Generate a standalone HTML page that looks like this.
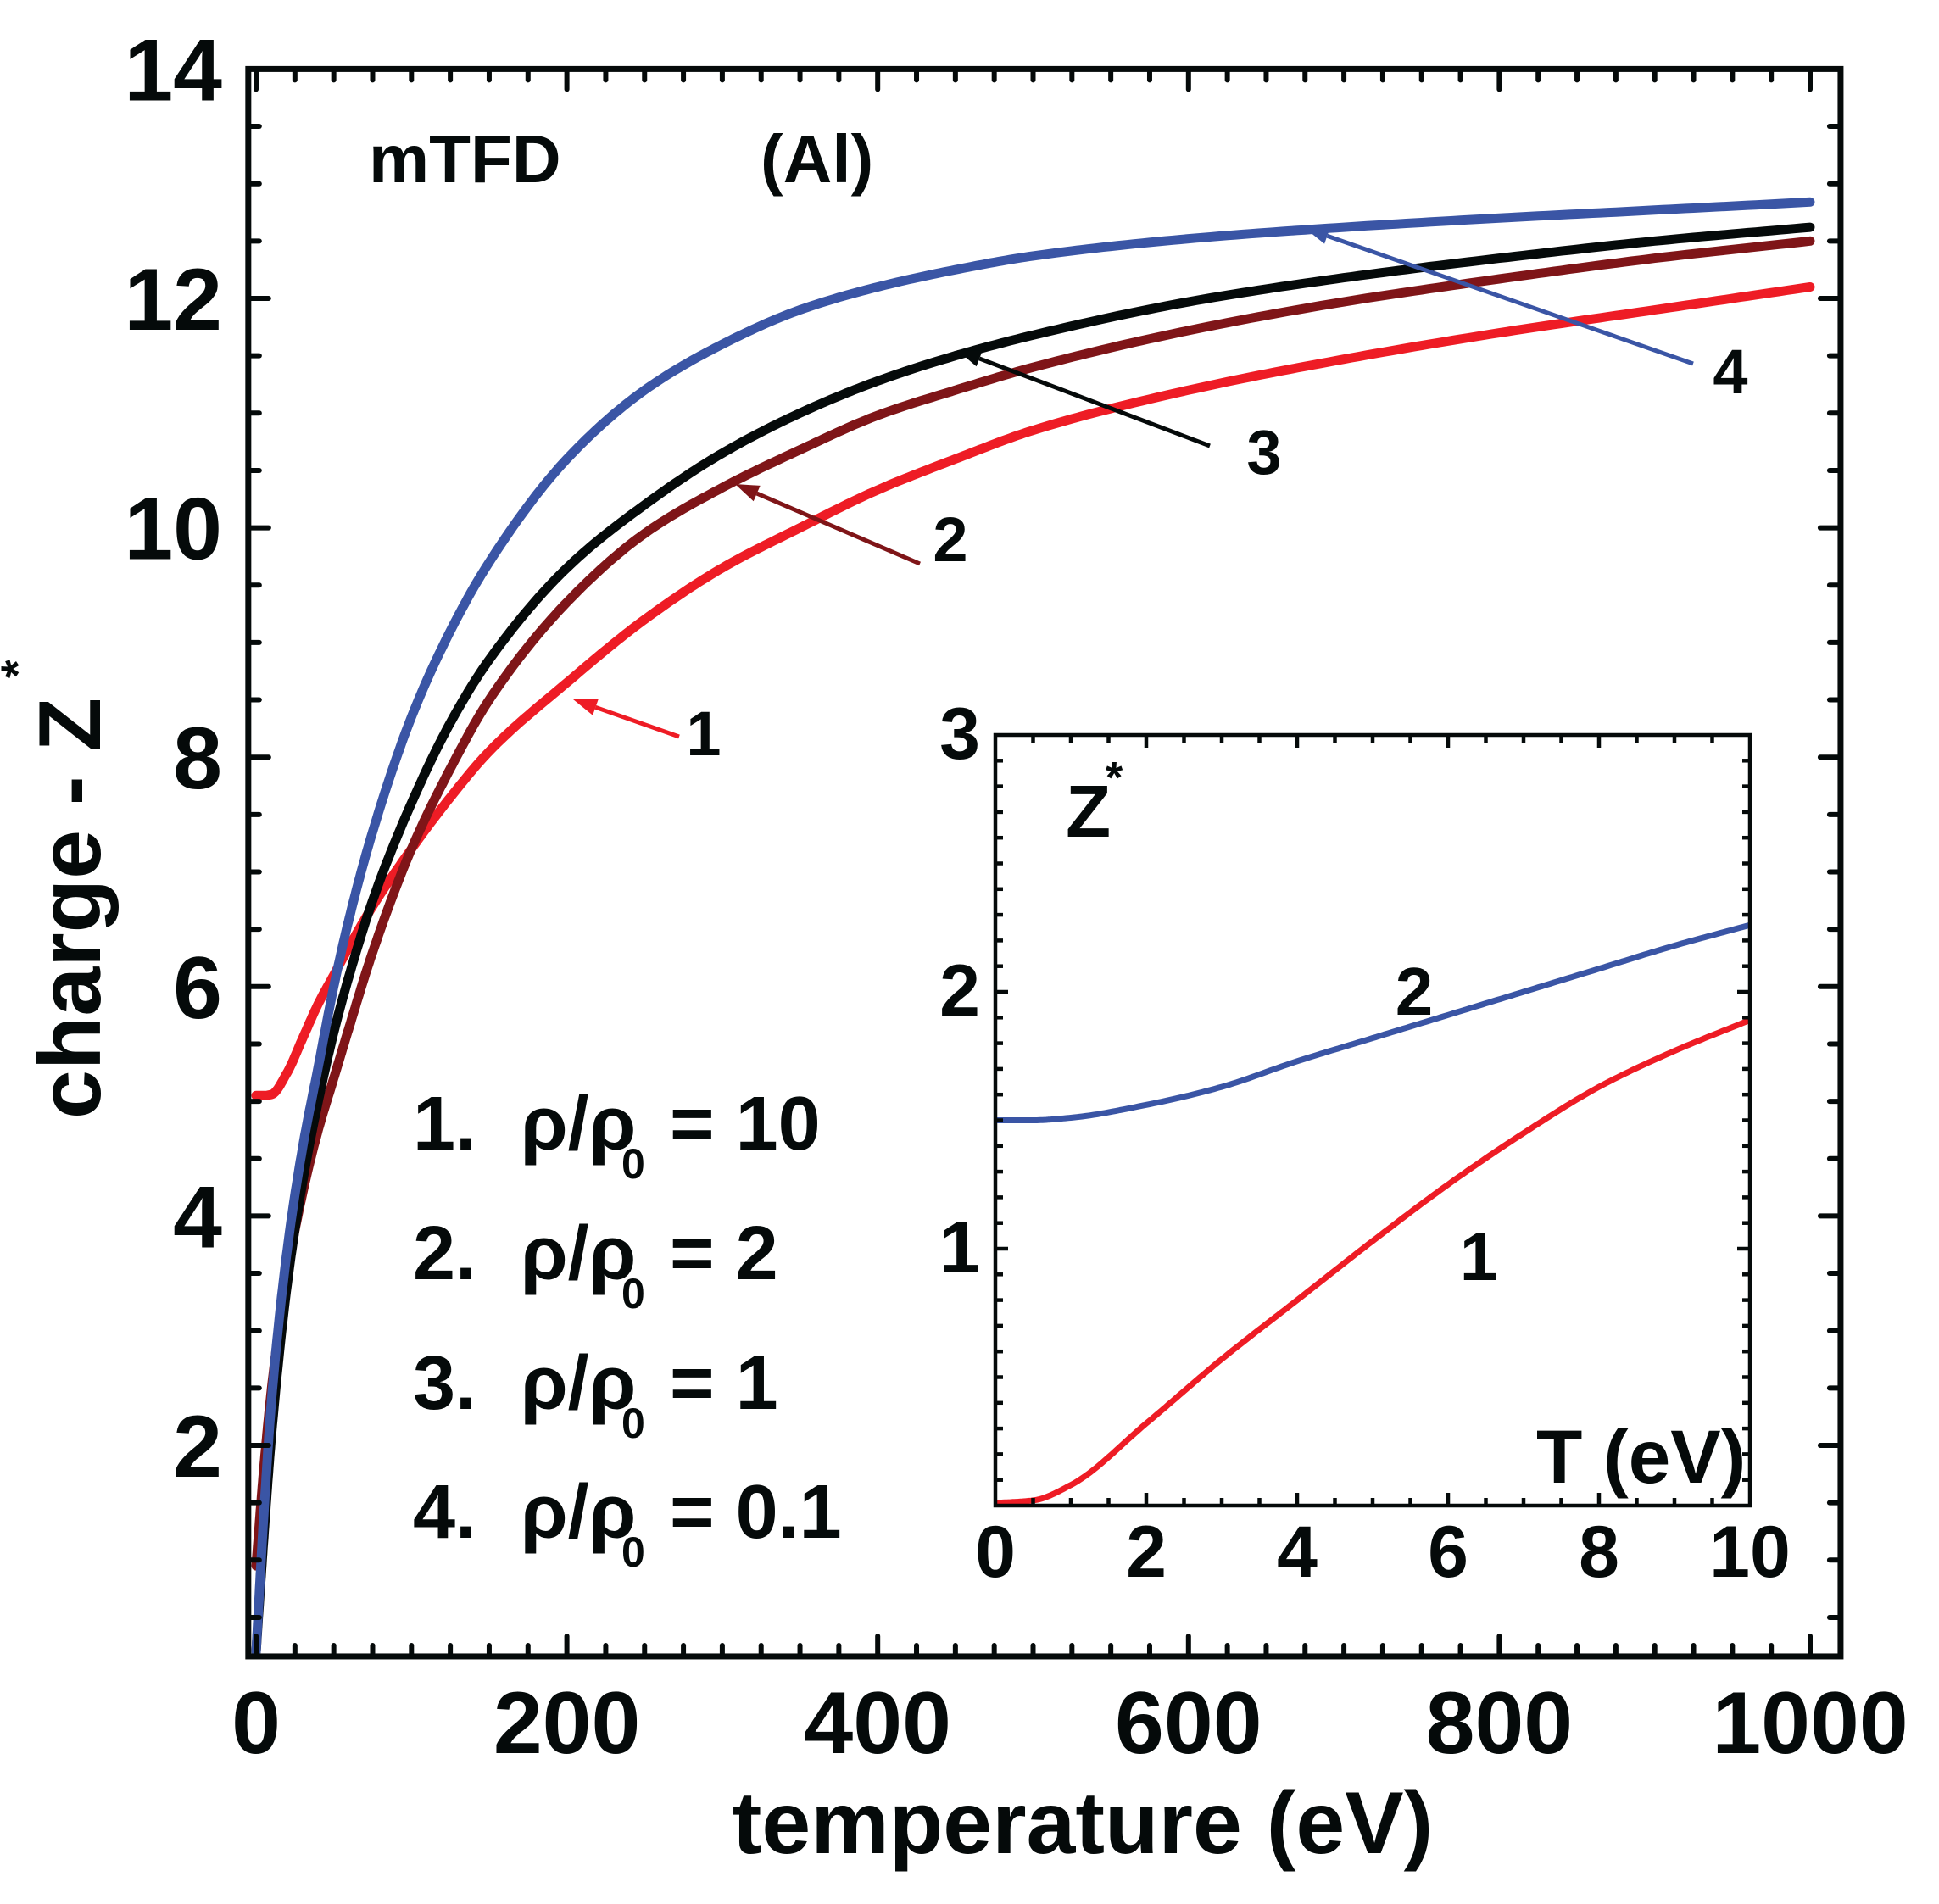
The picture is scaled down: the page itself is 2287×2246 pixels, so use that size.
<!DOCTYPE html>
<html><head><meta charset="utf-8"><style>
html,body{margin:0;padding:0;background:#fff;}
svg{display:block;}
text{font-family:"Liberation Sans",Arial,sans-serif;font-weight:bold;fill:#050a0a;}
</style></head><body>
<svg id="chart" width="2287" height="2246" viewBox="0 0 2287 2246" xmlns="http://www.w3.org/2000/svg">
<g id="main-plot"></g>
<g id="inset-plot"></g>
<g id="annotations">
<text x="435" y="215" font-size="80">mTFD</text>
<text x="897" y="215" font-size="80">(Al)</text>
<g font-size="90">
 <g><text x="487" y="1356">1.</text><text x="614" y="1356">ρ/ρ</text><text x="733" y="1390" font-size="50">0</text><text x="790" y="1356">= 10</text></g>
 <g><text x="487" y="1509">2.</text><text x="614" y="1509">ρ/ρ</text><text x="733" y="1543" font-size="50">0</text><text x="790" y="1509">= 2</text></g>
 <g><text x="487" y="1662">3.</text><text x="614" y="1662">ρ/ρ</text><text x="733" y="1696" font-size="50">0</text><text x="790" y="1662">= 1</text></g>
 <g><text x="487" y="1814">4.</text><text x="614" y="1814">ρ/ρ</text><text x="733" y="1848" font-size="50">0</text><text x="790" y="1814">= 0.1</text></g>
</g>
<text x="1277" y="2186" font-size="104" text-anchor="middle">temperature (eV)</text>
<g transform="translate(118,1320) rotate(-90)"><text x="0" y="0" font-size="104">charge - Z</text><text x="520" y="-78" font-size="56">*</text></g>
</g>
</svg>
<script>
// ---- main chart data ----
const mainX = [0,5,10,20,30,40,50,60,75,100,125,150,200,250,300,350,400,450,500,600,700,800,900,1000];
const series1 = [5.05,5.05,5.06,5.25,5.55,5.85,6.1,6.35,6.7,7.2,7.65,8.05,8.65,9.2,9.65,10.0,10.33,10.6,10.85,11.2,11.47,11.7,11.9,12.1];
const series2 = [0.95,1.8,2.5,3.5,4.2,4.75,5.2,5.65,6.3,7.2,7.9,8.5,9.35,9.95,10.35,10.68,10.98,11.2,11.4,11.72,11.97,12.17,12.35,12.5];
const series3 = [0.2,1.2,2.1,3.4,4.3,5.0,5.6,6.1,6.75,7.6,8.3,8.85,9.65,10.2,10.65,11.0,11.28,11.5,11.68,11.97,12.18,12.35,12.5,12.62];
const series4 = [0.2,1.4,2.4,3.7,4.6,5.3,6.0,6.6,7.35,8.35,9.1,9.7,10.6,11.2,11.6,11.9,12.1,12.25,12.37,12.52,12.62,12.7,12.77,12.84];
const xTickLabels = ["0","200","400","600","800","1000"];
const yTickLabels = ["2","4","6","8","10","12","14"];
// ---- inset data ----
const insetX = [0,0.5,1,2,3,4,5,6,7,8,9,10];
const inset1 = [0.01,0.02,0.08,0.32,0.57,0.8,1.03,1.25,1.45,1.63,1.77,1.89];
const inset2 = [1.5,1.5,1.51,1.56,1.63,1.73,1.82,1.91,2.0,2.09,2.18,2.26];
const insetXTickLabels = ["0","2","4","6","8","10"];
const insetYTickLabels = ["1","2","3"];

const NS="http://www.w3.org/2000/svg";
function el(tag,attrs,parent){const e=document.createElementNS(NS,tag);for(const k in attrs)e.setAttribute(k,attrs[k]);parent.appendChild(e);return e;}

function monotone(xs,ys,n){
  const m=xs.length,d=[],s=[];
  for(let i=0;i<m-1;i++)d.push((ys[i+1]-ys[i])/(xs[i+1]-xs[i]));
  s[0]=d[0];s[m-1]=d[m-2];
  for(let i=1;i<m-1;i++){ if(d[i-1]*d[i]<=0)s[i]=0; else {const h0=xs[i]-xs[i-1],h1=xs[i+1]-xs[i];s[i]=3*(h0+h1)/((2*h1+h0)/d[i-1]+(h1+2*h0)/d[i]);} }
  const out=[];
  for(let i=0;i<m-1;i++){const h=xs[i+1]-xs[i];
    for(let k=0;k<n;k++){const t=k/n,t2=t*t,t3=t2*t;
      const y=(2*t3-3*t2+1)*ys[i]+(t3-2*t2+t)*h*s[i]+(-2*t3+3*t2)*ys[i+1]+(t3-t2)*h*s[i+1];
      out.push([xs[i]+t*h,y]);}}
  out.push([xs[m-1],ys[m-1]]);return out;}

const gm=document.getElementById('main-plot');
const X0=302, XS=(2135-302)/1000, Y2=1705, YS=135.3;
const mx=v=>X0+v*XS, my=v=>Y2-(v-2)*YS;
const L=mx(-5), R=mx(1019.6), T=my(14), B=my(0.16);
el('clipPath',{id:'clipMain'},gm); el('rect',{x:L,y:T,width:R-L,height:B-T},gm.lastChild);
function curve(g,xs,ys,sx,sy,color,w,name,clip){
  const pts=monotone(xs,ys,20);
  const p=el('path',{d:'M'+pts.map(q=>sx(q[0]).toFixed(1)+','+sy(q[1]).toFixed(1)).join('L'),fill:'none',stroke:color,'stroke-width':w,'stroke-linejoin':'round','stroke-linecap':'round','clip-path':'url(#'+clip+')'},g);
  
  
}
curve(gm,mainX,series1,mx,my,'#ee1c25',11,'curve-1-rho-10','clipMain');
curve(gm,mainX,series2,mx,my,'#7f1518',11,'curve-2-rho-2','clipMain');
curve(gm,mainX,series3,mx,my,'#050a0a',11,'curve-3-rho-1','clipMain');
curve(gm,mainX,series4,mx,my,'#3a55a5',11,'curve-4-rho-0.1','clipMain');
for(let v=0;v<=1000;v+=25){const major=v%200===0,len=major?24:13,x=mx(v);
  el('line',{x1:x,y1:B,x2:x,y2:B-len,stroke:'#050a0a','stroke-width':6,'stroke-linecap':'round'},gm);
  el('line',{x1:x,y1:T,x2:x,y2:T+len,stroke:'#050a0a','stroke-width':6,'stroke-linecap':'round'},gm);}
for(let v=0.5;v<=14;v+=0.5){const major=Math.abs(v%2)<1e-9,len=major?24:13,y=my(v);
  el('line',{x1:L,y1:y,x2:L+len,y2:y,stroke:'#050a0a','stroke-width':6,'stroke-linecap':'round'},gm);
  el('line',{x1:R,y1:y,x2:R-len,y2:y,stroke:'#050a0a','stroke-width':6,'stroke-linecap':'round'},gm);}
const fr=el('rect',{x:L,y:T,width:R-L,height:B-T,fill:'none',stroke:'#050a0a','stroke-width':7},gm);


xTickLabels.forEach((s,i)=>{const t=el('text',{x:mx(i*200),y:2068,'font-size':104,'text-anchor':'middle'},gm);t.textContent=s;
  
  });
yTickLabels.forEach((s,i)=>{const t=el('text',{x:262,y:my(2+2*i)+37,'font-size':104,'text-anchor':'end'},gm);t.textContent=s;
  
  });
const arrows=[["1",'#ee1c25',801,869,676,825,830,891],["2",'#7f1518',1085,665,867,571,1121,662],["3",'#050a0a',1427,526,1129,413,1491,559],["4",'#3a55a5',1997,429,1539,269,2041,464]];
arrows.forEach(a=>{const g=el('g',{},gm);
  
  
  const [x1,y1,x2,y2]=[a[2],a[3],a[4],a[5]];const ang=Math.atan2(y2-y1,x2-x1);
  const hx=x2-28*Math.cos(ang),hy=y2-28*Math.sin(ang);
  el('line',{x1:x1,y1:y1,x2:hx,y2:hy,stroke:a[1],'stroke-width':5},g);
  const px=-Math.sin(ang)*10,py=Math.cos(ang)*10;
  el('polygon',{points:`${x2},${y2} ${hx+px},${hy+py} ${hx-px},${hy-py}`,fill:a[1]},g);
  const t=el('text',{x:a[6],y:a[7],'font-size':74,'text-anchor':'middle'},g);t.textContent=a[0];});

const gi=document.getElementById('inset-plot');
const IX0=1174, IXS=89, IY0=1776, IYS=303;
const ix=v=>IX0+v*IXS, iy=v=>IY0-v*IYS;
el('rect',{x:ix(0),y:iy(3),width:ix(10)-ix(0),height:iy(0)-iy(3),fill:'#fff'},gi);
el('clipPath',{id:'clipInset'},gi); el('rect',{x:ix(0),y:iy(3),width:ix(10)-ix(0),height:iy(0)-iy(3)},gi.lastChild);
curve(gi,insetX,inset1,ix,iy,'#ee1c25',7,'inset-curve-1','clipInset');
curve(gi,insetX,inset2,ix,iy,'#3a55a5',7,'inset-curve-2','clipInset');
for(let v=0.5;v<10;v+=0.5){const major=Math.abs(v%2)<1e-9,len=major?15:9,x=ix(v);
  el('line',{x1:x,y1:iy(0),x2:x,y2:iy(0)-len,stroke:'#050a0a','stroke-width':4.5},gi);
  el('line',{x1:x,y1:iy(3),x2:x,y2:iy(3)+len,stroke:'#050a0a','stroke-width':4.5},gi);}
for(let k=1;k<30;k++){const v=k/10,major=k%10===0,len=major?15:9,y=iy(v);
  el('line',{x1:ix(0),y1:y,x2:ix(0)+len,y2:y,stroke:'#050a0a','stroke-width':4.5},gi);
  el('line',{x1:ix(10),y1:y,x2:ix(10)-len,y2:y,stroke:'#050a0a','stroke-width':4.5},gi);}
const ifr=el('rect',{x:ix(0),y:iy(3),width:ix(10)-ix(0),height:iy(0)-iy(3),fill:'none',stroke:'#050a0a','stroke-width':4.5},gi);


insetXTickLabels.forEach((s,i)=>{const t=el('text',{x:ix(i*2),y:1860,'font-size':86,'text-anchor':'middle'},gi);t.textContent=s;
  
  });
insetYTickLabels.forEach((s,i)=>{const t=el('text',{x:1156,y:iy(i+1)+28,'font-size':86,'text-anchor':'end'},gi);t.textContent=s;
  
  });
[["Z",1257,987,87,'inset-y-title'],["*",1304,935,52,'inset-y-title-star'],["T (eV)",1812,1749,89,'inset-x-title'],["2",1668,1197,80,'inset-label-2'],["1",1744,1510,80,'inset-label-1']].forEach(a=>{
  const t=el('text',{x:a[1],y:a[2],'font-size':a[3],'text-anchor':(a[0].length===1&&a[0]!=="Z"&&a[0]!=="*")?'middle':'start'},gi);t.textContent=a[0];
  
  });
</script>
</body></html>
